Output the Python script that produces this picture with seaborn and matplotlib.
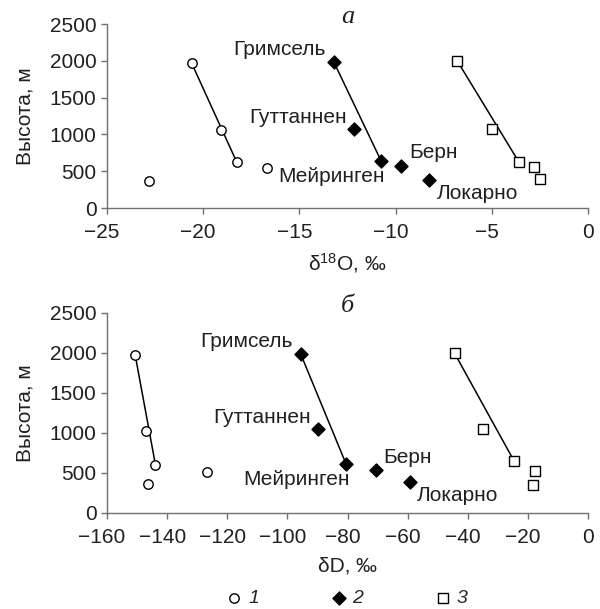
import matplotlib
matplotlib.use("Agg")
import matplotlib.pyplot as plt
import matplotlib.transforms as mtrans
import seaborn as sns
import pandas as pd

# ---------------- data ----------------
stations = ["Гримсель", "Гуттаннен", "Мейринген", "Берн", "Локарно"]

o18_g1_x = [-20.6, -19.1, -18.25, -16.7, -22.8]
o18_g1_y = [1968, 1056, 620, 539, 364]
o18_g2_x = [-13.2, -12.15, -10.75, -9.7, -8.25]
o18_g2_y = [1978, 1070, 638, 575, 387]
o18_g3_x = [-6.8, -4.97, -3.6, -2.8, -2.47]
o18_g3_y = [2000, 1079, 629, 553, 396]

dD_g1_x = [-150.6, -146.9, -143.9, -126.6, -146.4]
dD_g1_y = [1969, 1024, 606, 510, 360]
dD_g2_x = [-95.6, -89.8, -80.5, -70.6, -59.3]
dD_g2_y = [1990, 1049, 615, 535, 385]
dD_g3_x = [-44.4, -35.0, -24.5, -17.6, -18.2]
dD_g3_y = [1998, 1045, 644, 527, 355]

group_labels = ["1", "2", "3"]
y_ticks = [0, 500, 1000, 1500, 2000, 2500]
o18_ticks = [-25, -20, -15, -10, -5, 0]
dD_ticks = [-160, -140, -120, -100, -80, -60, -40, -20, 0]

# ---------------- style ----------------
sns.set_style("ticks")
plt.rcParams["font.family"] = ["Liberation Sans", "DejaVu Sans"]
plt.rcParams["mathtext.fontset"] = "custom"
plt.rcParams["mathtext.rm"] = "Liberation Sans"
plt.rcParams["mathtext.it"] = "Liberation Sans:italic"

FS = 15
SPINE = "#707070"
TXT = "#231f20"

fig = plt.figure(figsize=(6, 6.09), dpi=100)
ax1 = fig.add_axes([107 / 600, 1 - 208 / 609, 481 / 600, 184 / 609])
ax2 = fig.add_axes([107 / 600, 1 - 513 / 609, 481 / 600, 200 / 609])

styles = [
    dict(marker="o", color="white", s=46),
    dict(marker="D", color="black", s=44),
    dict(marker="s", color="white", s=48),
]

label_offsets = {  # pixel offsets of station labels, alignment
    "Гримсель": (-8, 12.5, "right"),
    "Гуттаннен": (-7.5, 12, "right"),
    "Мейринген": (4, -15.5, "right"),
    "Берн": (7.5, 13, "left"),
    "Локарно": (7.5, -13.5, "left"),
}


def panel(ax, xs, ys, ticks, xlabel, title):
    for i, (x, y) in enumerate(zip(xs, ys)):
        df = pd.DataFrame({"x": x, "y": y})
        # fit line: from first to third point
        sns.lineplot(x=[x[0], x[2]], y=[y[0], y[2]], ax=ax, color="black",
                     lw=1.1, estimator=None, sort=False, zorder=2)
        sns.scatterplot(data=df, x="x", y="y", ax=ax, edgecolor="black",
                        linewidth=1.0, zorder=3, clip_on=False,
                        label=group_labels[i], legend=False, **styles[i])
    if ax.get_legend() is not None:
        ax.get_legend().remove()
    for name, x, y in zip(stations, xs[1], ys[1]):
        dx, dy, ha = label_offsets[name]
        ax.annotate(name, (x, y), xytext=(dx, dy), textcoords="offset pixels",
                    ha=ha, va="center", fontsize=FS, color=TXT)
    ax.set_xlim(ticks[0], ticks[-1])
    ax.set_ylim(0, 2500)
    ax.set_xticks(ticks, [("−%d" % -t) if t < 0 else "%d" % t for t in ticks])
    ax.set_yticks(y_ticks, [str(t) for t in y_ticks])
    ax.tick_params(axis="both", labelsize=FS, colors=SPINE, labelcolor=TXT,
                   length=4.5, width=1.0, direction="out")
    ax.tick_params(axis="x", pad=6)
    ax.tick_params(axis="y", pad=3)
    sns.despine(ax=ax)
    for sp in ("left", "bottom"):
        ax.spines[sp].set_color(SPINE)
        ax.spines[sp].set_linewidth(1.0)
    ax.set_xlabel(xlabel, fontsize=FS, color=TXT, labelpad=7)
    ax.set_ylabel("Высота, м", fontsize=FS, color=TXT, labelpad=11)
    ax.set_title(title, fontsize=19, family="Liberation Serif", style="italic",
                 color=TXT, pad=1, y=1.0)
    # centre digits (not the minus sign) under each tick
    shift = mtrans.ScaledTranslation(-5 / 100, 0, fig.dpi_scale_trans)
    for lab in ax.get_xticklabels():
        if lab.get_text().startswith("−"):
            lab.set_transform(lab.get_transform() + shift)


panel(ax1, [o18_g1_x, o18_g2_x, o18_g3_x], [o18_g1_y, o18_g2_y, o18_g3_y],
      o18_ticks, "δ$^{18}$O, ‰", "а")
panel(ax2, [dD_g1_x, dD_g2_x, dD_g3_x], [dD_g1_y, dD_g2_y, dD_g3_y],
      dD_ticks, "δD, ‰", "б")

handles, labels = ax2.get_legend_handles_labels()
fig.legend(handles, labels, loc="center", bbox_to_anchor=(0.58, 0.018),
           ncol=3, frameon=False, handlelength=0.6, handletextpad=0.4,
           columnspacing=3.8, borderpad=0,
           prop=dict(family="Liberation Sans", style="italic", size=14))

fig.savefig("out.png", dpi=100)
